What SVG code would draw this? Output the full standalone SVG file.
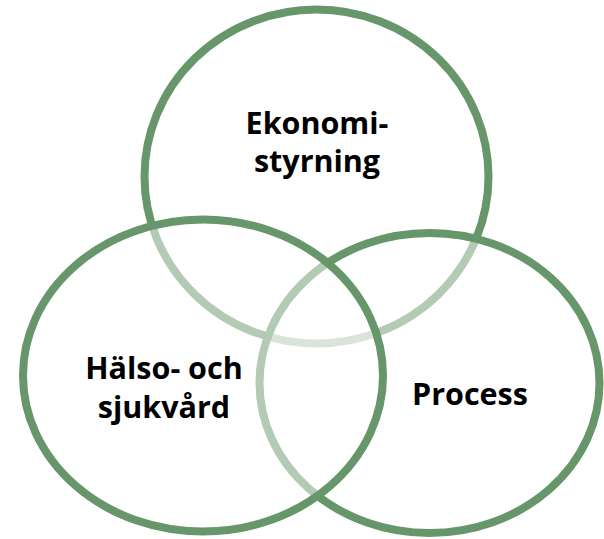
<svg xmlns="http://www.w3.org/2000/svg" width="604" height="539" viewBox="0 0 604 539">
<style>
.c{fill:#ffffff;fill-opacity:0.5;stroke:#66966a;stroke-width:8}
.t{font-family:"Open Sans","Liberation Sans",sans-serif;font-weight:bold;font-size:30.5px;fill:#000;text-anchor:middle}
</style>
<rect width="604" height="539" fill="#fff"/>
<g id="ekonomistyrning">
<ellipse class="c" cx="316.5" cy="176.5" rx="172" ry="167"/>
<text class="t" x="317" y="134">Ekonomi-</text>
<text class="t" x="317" y="172">styrning</text>
</g>
<g id="process">
<ellipse class="c" cx="429.5" cy="383" rx="170" ry="150"/>
<text class="t" x="470" y="405">Process</text>
</g>
<g id="halso">
<ellipse class="c" cx="203" cy="375.5" rx="180" ry="156"/>
<text class="t" x="164" y="379">Hälso- och</text>
<text class="t" x="164" y="418">sjukvård</text>
</g>
<g id="connectors"/>
</svg>
